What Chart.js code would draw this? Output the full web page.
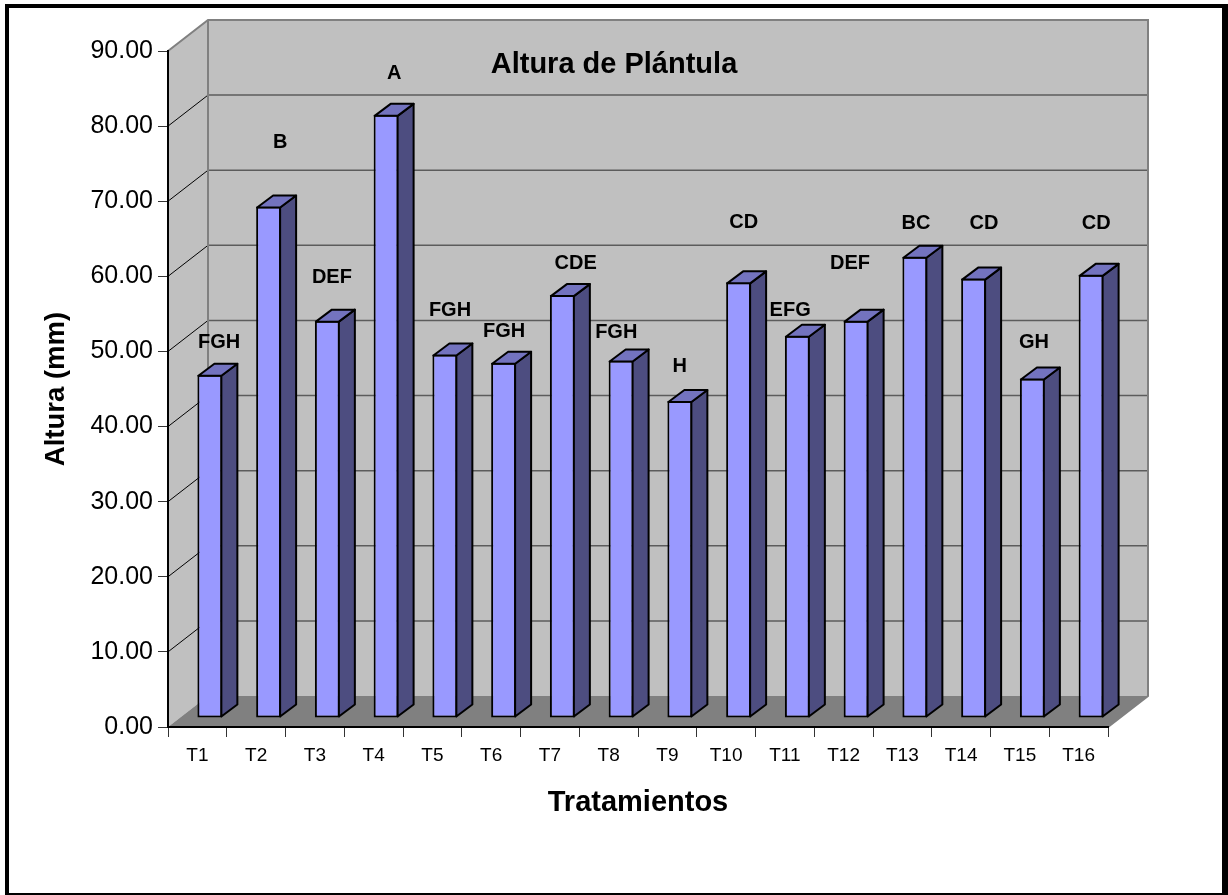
<!DOCTYPE html>
<html>
<head>
<meta charset="utf-8">
<style>
  html, body { margin: 0; background: #fff; }
  canvas { display: block; }
</style>
<script src="https://cdn.jsdelivr.net/npm/chart.js@4"></script>
</head>
<body>
<canvas id="alturaChart" width="1228" height="895"></canvas>
<script>
const categories = ["T1", "T2", "T3", "T4", "T5", "T6", "T7", "T8", "T9", "T10", "T11", "T12", "T13", "T14", "T15", "T16"];
const alturaValues = [45.7, 68.1, 52.9, 80.3, 48.4, 47.3, 56.3, 47.6, 42.2, 58.0, 50.9, 52.9, 61.4, 58.5, 45.2, 59.0];
const letters = ["FGH", "B", "DEF", "A", "FGH", "FGH", "CDE", "FGH", "H", "CD", "EFG", "DEF", "BC", "CD", "GH", "CD"];
// where the letters sit: x in category units, y in axis units (they were placed by hand)
const letterX = [0.87, 1.91, 2.79, 3.85, 4.80, 5.72, 6.94, 7.63, 8.71, 9.80, 10.59, 11.61, 12.73, 13.89, 14.74, 15.80];
const letterY = [51.4, 78.0, 60.1, 87.2, 55.7, 52.9, 61.9, 52.7, 48.2, 67.4, 55.7, 61.9, 67.2, 67.2, 51.4, 67.2];

const WALL_DX = 40, WALL_DY = -31;   // depth of the box
const BAR_DX = 16, BAR_DY = -12;     // depth of each bar
const SHIFT_X = 12.5, SHIFT_Y = -9;  // bars stand a bit behind the front edge

function poly(ctx, pts, fill, stroke, lineWidth) {
  ctx.beginPath();
  pts.forEach((p, i) => (i ? ctx.lineTo(p[0], p[1]) : ctx.moveTo(p[0], p[1])));
  ctx.closePath();
  if (fill) { ctx.fillStyle = fill; ctx.fill(); }
  if (stroke) { ctx.strokeStyle = stroke; ctx.lineWidth = lineWidth; ctx.lineJoin = "round"; ctx.stroke(); }
}

const boxPlugin = {
  id: "box3d",
  beforeDraw(chart) {
    const { ctx, chartArea: a, scales } = chart;
    const l = a.left, r = a.right, t = a.top, b = a.bottom;
    const dx = WALL_DX, dy = WALL_DY;
    ctx.save();
    // page frame
    ctx.fillStyle = "#000";
    ctx.fillRect(5, 4, chart.width - 5, chart.height - 4);
    ctx.fillStyle = "#fff";
    ctx.fillRect(9, 8, chart.width - 15, chart.height - 10);

    poly(ctx, [[l, t], [l + dx, t + dy], [r + dx, t + dy], [r + dx, b + dy], [l + dx, b + dy], [l, b]], "#c0c0c0");
    poly(ctx, [[l, b], [l + dx, b + dy], [r + dx, b + dy], [r, b]], "#808080");

    scales.y.ticks.forEach(tick => {
      const y = scales.y.getPixelForValue(tick.value);
      if (tick.value > 0 && tick.value < 90) {
        ctx.strokeStyle = "#000";
        ctx.lineWidth = 1;
        ctx.beginPath();
        ctx.moveTo(l, y);
        ctx.lineTo(l + dx, y + dy);
        ctx.stroke();
        ctx.strokeStyle = "#5c5c5c";
        ctx.lineWidth = 1.5;
        ctx.beginPath();
        ctx.moveTo(l + dx, y + dy);
        ctx.lineTo(r + dx, y + dy);
        ctx.stroke();
      }
    });

    ctx.strokeStyle = "#808080";
    ctx.lineWidth = 2;
    ctx.beginPath();
    ctx.moveTo(l, t);
    ctx.lineTo(l + dx, t + dy);
    ctx.lineTo(r + dx, t + dy);
    ctx.lineTo(r + dx, b + dy);
    ctx.lineTo(r, b);
    ctx.moveTo(l + dx, t + dy);
    ctx.lineTo(l + dx, b + dy);
    ctx.stroke();
    ctx.restore();
  },
  beforeDatasetDraw(chart, args) {
    if (args.index !== 0) return;
    chart.ctx.save();
    chart.ctx.translate(SHIFT_X, SHIFT_Y);
  },
  afterDatasetDraw(chart, args) {
    if (args.index !== 0) return;
    const ctx = chart.ctx;
    args.meta.data.forEach(bar => {
      const p = bar.getProps(["x", "y", "base", "width"], true);
      const x0 = p.x - p.width / 2 + 1, x1 = p.x + p.width / 2 - 1;
      const top = p.y + 1, base = p.base - 1;
      poly(ctx, [[x1, top], [x1 + BAR_DX, top + BAR_DY], [x1 + BAR_DX, base + BAR_DY], [x1, base]], "#4d4d80", "#000", 2);
      poly(ctx, [[x0, top], [x0 + BAR_DX, top + BAR_DY], [x1 + BAR_DX, top + BAR_DY], [x1, top]], "#7373bf", "#000", 2);
    });
    ctx.restore();
  },
  afterDatasetsDraw(chart) {
    const ctx = chart.ctx;
    ctx.save();
    ctx.fillStyle = "#000";
    ctx.textAlign = "center";
    ctx.textBaseline = "middle";
    ctx.font = "bold 20px 'Liberation Sans'";
    chart.getDatasetMeta(1).data.forEach((pt, i) => ctx.fillText(letters[i], pt.x, pt.y + 1.5));
    ctx.font = "bold 29px 'Liberation Sans'";
    ctx.fillText("Altura de Plántula", 614, 65);
    ctx.restore();
  },
};

new Chart(document.getElementById("alturaChart"), {
  data: {
    labels: categories,
    datasets: [
      {
        type: "bar",
        label: "Altura",
        data: alturaValues,
        backgroundColor: "#9999ff",
        borderColor: "#000",
        borderWidth: 2,
        borderSkipped: false,
        grouped: false,
        categoryPercentage: 1,
        barPercentage: 0.425,
        xAxisID: "x",
        yAxisID: "y",
      },
      {
        type: "scatter",
        label: "Letras",
        data: letterX.map((x, i) => ({ x: x, y: letterY[i] })),
        pointRadius: 0,
        xAxisID: "xLetters",
        yAxisID: "y",
      },
    ],
  },
  options: {
    responsive: false,
    animation: false,
    layout: { padding: { left: 0, right: 120, top: 51, bottom: 0 } },
    plugins: { legend: { display: false }, tooltip: { enabled: false } },
    scales: {
      x: {
        type: "category",
        afterFit: axis => { axis.height = 168; },
        grid: { drawOnChartArea: false, tickLength: 10, tickColor: "#333" },
        border: { color: "#000", width: 2 },
        ticks: {
          color: "#000", maxRotation: 0, autoSkip: false, padding: 7,
          font: { family: "'Liberation Sans'", size: 19 },
        },
        title: {
          display: true, text: "Tratamientos", color: "#000",
          font: { family: "'Liberation Sans'", size: 29, weight: "bold" },
          padding: { top: 0, bottom: 75 },
        },
      },
      xLetters: { type: "linear", min: 0, max: 16, display: false },
      y: {
        min: 0,
        max: 90,
        afterFit: axis => { axis.width = 168; },
        grid: { drawOnChartArea: false, tickLength: 10, tickColor: "#333" },
        border: { color: "#000", width: 2 },
        ticks: {
          stepSize: 10, color: "#000", padding: 5,
          font: { family: "'Liberation Sans'", size: 25 },
          callback: v => v.toFixed(2),
        },
        title: {
          display: true, text: "Altura (mm)", color: "#000",
          font: { family: "'Liberation Sans'", size: 27.5, weight: "bold" },
          padding: { top: 40, bottom: 0 },
        },
      },
    },
  },
  plugins: [boxPlugin],
});
</script>
</body>
</html>
